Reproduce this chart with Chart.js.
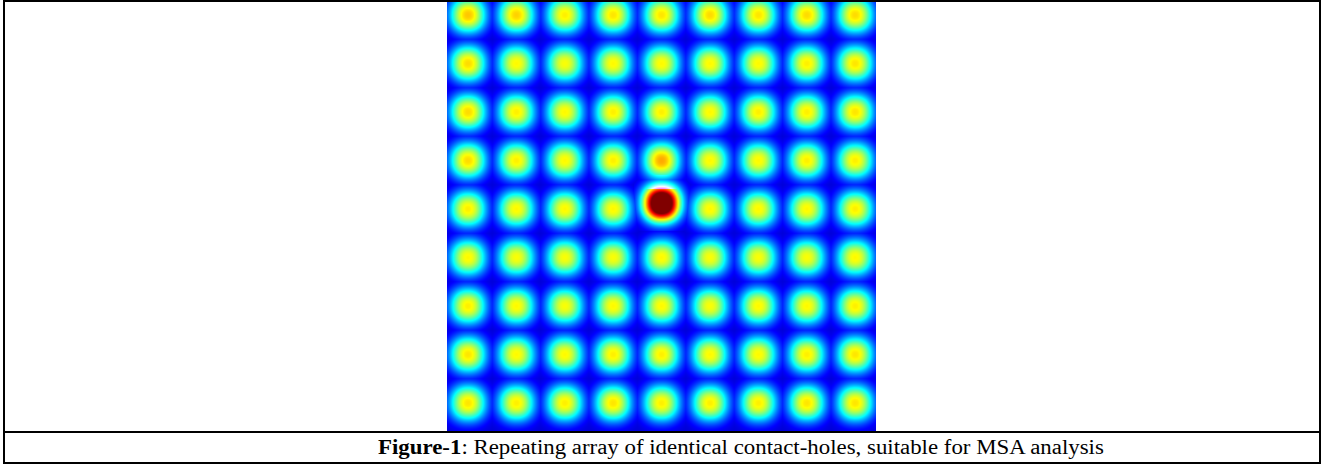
<!DOCTYPE html>
<html>
<head>
<meta charset="utf-8">
<script src="https://cdn.jsdelivr.net/npm/chart.js@4.4.1/dist/chart.umd.min.js"></script>
<style>
  html, body { margin: 0; padding: 0; background: #fff; width: 1323px; height: 465px; overflow: hidden; }
  #frame { position: absolute; left: 3px; top: 0; width: 1318px; height: 464px; box-sizing: border-box; border: 2px solid #000; }
  #rule { position: absolute; left: 3px; top: 431px; width: 1318px; height: 2px; background: #000; }
  #plot { position: absolute; left: 447px; top: 2px; width: 429px; height: 429px; }
  #caption { position: absolute; left: 378px; top: 433px; height: 29px; line-height: 29px;
             font-family: "Liberation Serif", "Times New Roman", serif; font-size: 20px; color: #000;
             white-space: nowrap; transform: scaleX(1.143); transform-origin: 0 50%; }
</style>
</head>
<body>
<div id="frame"></div>
<div id="rule"></div>
<canvas id="plot" width="429" height="429"></canvas>
<div id="caption"><b>Figure-1</b>: Repeating array of identical contact-holes, suitable for MSA analysis</div>
<script>
// Contact-hole lattice: column and row indices of the printed holes
const holeColumns = [0, 1, 2, 3, 4, 5, 6, 7, 8];
const holeRows = [0, 1, 2, 3, 4, 5, 6, 7, 8];

// Normalised peak intensity of each hole, row by row (1.0 = colour-scale maximum)
const peakRow0 = [0.68, 0.67, 0.64, 0.65, 0.65, 0.66, 0.65, 0.66, 0.66];
const peakRow1 = [0.66, 0.63, 0.62, 0.63, 0.63, 0.63, 0.63, 0.64, 0.65];
const peakRow2 = [0.66, 0.64, 0.63, 0.64, 0.64, 0.63, 0.64, 0.64, 0.65];
const peakRow3 = [0.66, 0.64, 0.63, 0.64, 0.71, 0.63, 0.63, 0.64, 0.64];
const peakRow4 = [0.64, 0.63, 0.63, 0.63, 1.30, 0.63, 0.63, 0.63, 0.64];
const peakRow5 = [0.63, 0.62, 0.62, 0.62, 0.63, 0.62, 0.62, 0.62, 0.63];
const peakRow6 = [0.64, 0.63, 0.62, 0.63, 0.63, 0.62, 0.63, 0.63, 0.64];
const peakRow7 = [0.65, 0.63, 0.63, 0.64, 0.64, 0.63, 0.63, 0.64, 0.65];
const peakRow8 = [0.65, 0.64, 0.64, 0.65, 0.64, 0.64, 0.64, 0.65, 0.65];
const peakRows = [peakRow0, peakRow1, peakRow2, peakRow3, peakRow4, peakRow5, peakRow6, peakRow7, peakRow8];

// Measured centre offsets (in lattice units) of holes that sit off their lattice site
const offsetHoles = [{ row: 4, col: 4, dx: 0.0, dy: -0.12 }];

// Background level of the intensity map between holes
const backgroundLevel = 0.08;

// --- rendering helpers ---------------------------------------------------
function jet(v) {
  const c = x => Math.max(0, Math.min(1, x));
  v = c(v);
  return [c(1.5 - Math.abs(4 * v - 3)), c(1.5 - Math.abs(4 * v - 2)), c(1.5 - Math.abs(4 * v - 1))]
    .map(x => Math.round(x * 255));
}

// A blurred, slightly square aerial-image spot rendered through the jet colour map
function spotSprite(peak) {
  const size = 56, half = size / 2, s = 18.2, p = 2.2, k = 2.3;
  const cv = document.createElement('canvas');
  cv.width = size; cv.height = size;
  const g = cv.getContext('2d');
  const img = g.createImageData(size, size);
  for (let j = 0; j < size; j++) {
    for (let i = 0; i < size; i++) {
      const dx = Math.abs(i + 0.5 - half), dy = Math.abs(j + 0.5 - half);
      const r = Math.pow(Math.pow(dx, p) + Math.pow(dy, p), 1 / p);
      const v = backgroundLevel + (peak - backgroundLevel) * Math.exp(-Math.pow(r / s, k));
      const [R, G, B] = jet(v);
      const o = 4 * (j * size + i);
      img.data[o] = R; img.data[o + 1] = G; img.data[o + 2] = B; img.data[o + 3] = 255;
    }
  }
  g.putImageData(img, 0, 0);
  return cv;
}

const points = [];
const styles = [];
holeRows.forEach((row, ri) => {
  holeColumns.forEach((col, ci) => {
    const off = offsetHoles.find(h => h.row === row && h.col === col);
    points.push({ x: col + (off ? off.dx : 0), y: row + (off ? off.dy : 0), peak: peakRows[ri][ci] });
    styles.push(spotSprite(peakRows[ri][ci]));
  });
});

// Overlapping spot tails merge by keeping the brighter value; the background is filled behind afterwards
const fieldBackground = {
  id: 'fieldBackground',
  beforeDatasetDraw(chart) { chart.ctx.save(); chart.ctx.globalCompositeOperation = 'lighten'; },
  afterDatasetDraw(chart) { chart.ctx.restore(); },
  afterDatasetsDraw(chart) {
    const { ctx, chartArea: a } = chart;
    const [R, G, B] = jet(backgroundLevel);
    ctx.save();
    ctx.globalCompositeOperation = 'destination-over';
    ctx.fillStyle = `rgb(${R},${G},${B})`;
    ctx.fillRect(a.left, a.top, a.right - a.left, a.bottom - a.top);
    ctx.restore();
  }
};

new Chart(document.getElementById('plot'), {
  type: 'scatter',
  data: {
    datasets: [{
      data: points,
      pointStyle: styles,
      pointRadius: 28,
      pointHoverRadius: 28,
      clip: 0
    }]
  },
  options: {
    responsive: false,
    animation: false,
    events: [],
    layout: { padding: 0, autoPadding: false },
    plugins: { legend: { display: false }, tooltip: { enabled: false } },
    scales: {
      x: { type: 'linear', display: false, min: -21 / 48.4, max: 408 / 48.4 },
      y: { type: 'linear', display: false, reverse: true, min: -13 / 48.5, max: 416 / 48.5 }
    }
  },
  plugins: [fieldBackground]
});
</script>
</body>
</html>
